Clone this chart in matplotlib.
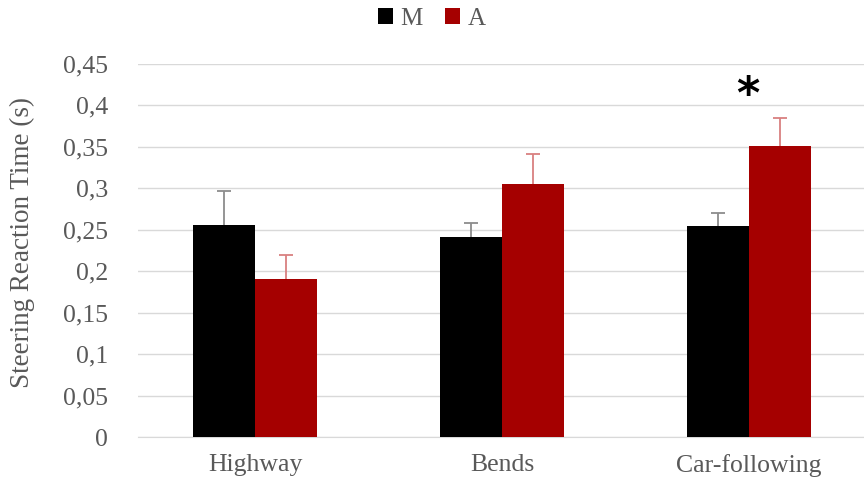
import numpy as np
import matplotlib.pyplot as plt

plt.rcParams['font.family'] = ['Liberation Serif', 'DejaVu Serif']

# Data
conditions = ['Highway', 'Bends', 'Car-following']
m_values = [0.256, 0.241, 0.255]
m_errors = [0.041, 0.017, 0.015]
a_values = [0.191, 0.305, 0.351]
a_errors = [0.029, 0.036, 0.034]
y_ticks = [0, 0.05, 0.1, 0.15, 0.2, 0.25, 0.3, 0.35, 0.4, 0.45]
y_tick_labels = ['0', '0,05', '0,1', '0,15', '0,2', '0,25', '0,3', '0,35', '0,4', '0,45']

text_color = '#595959'
m_color = '#000000'
a_color = '#a50000'

fig = plt.figure(figsize=(8.64, 4.83), dpi=100)
ax = fig.add_axes([138 / 864, 1 - 437 / 483, 1 - 138 / 864, (437 - 64) / 483])

x = np.arange(len(conditions))
width = 0.252

ax.bar(x - width / 2, m_values, width, color=m_color, label='M', zorder=3)
ax.bar(x + width / 2, a_values, width, color=a_color, label='A', zorder=3)

# upper error bars only; hide the lower caps
for xs, vals, errs, col in [(x - width / 2, m_values, m_errors, '#8c8c8c'),
                            (x + width / 2, a_values, a_errors, '#d98080')]:
    eb = ax.errorbar(xs, vals, yerr=[np.zeros(3), errs], fmt='none', ecolor=col,
                     elinewidth=1.3, capsize=5, capthick=1.3, zorder=4)
    eb.lines[1][0].set_visible(False)

# significance marker
ax.text(x[2] - 0.005, 0.412, '*', ha='center', va='center', fontsize=32,
        fontweight='bold', color='black', family='DejaVu Sans')

ax.set_xlim(-0.474, 2.466)
ax.set_ylim(0, 0.45)
ax.set_yticks(y_ticks)
ax.set_yticklabels(y_tick_labels)
ax.set_xticks(x)
ax.set_xticklabels(conditions)
ax.tick_params(axis='both', length=0, labelsize=18.5, colors=text_color)
ax.tick_params(axis='y', pad=21.5)
ax.tick_params(axis='x', pad=12)
ax.grid(axis='y', color='#d9d9d9', linewidth=1, zorder=0)
for side in ['top', 'right', 'left']:
    ax.spines[side].set_visible(False)
ax.spines['bottom'].set_color('#d9d9d9')

fig.text(22 / 864, 1 - 243 / 483, 'Steering Reaction Time (s)', rotation=90,
         ha='center', va='center', fontsize=19.5, color=text_color)

fig.legend(loc='center', bbox_to_anchor=(0.5, 1 - 19 / 483), ncol=2, frameon=False,
           fontsize=18, handlelength=0.6, handleheight=0.6, handletextpad=0.3,
           columnspacing=0.9, labelcolor=text_color)

fig.savefig('out.png', dpi=100)
